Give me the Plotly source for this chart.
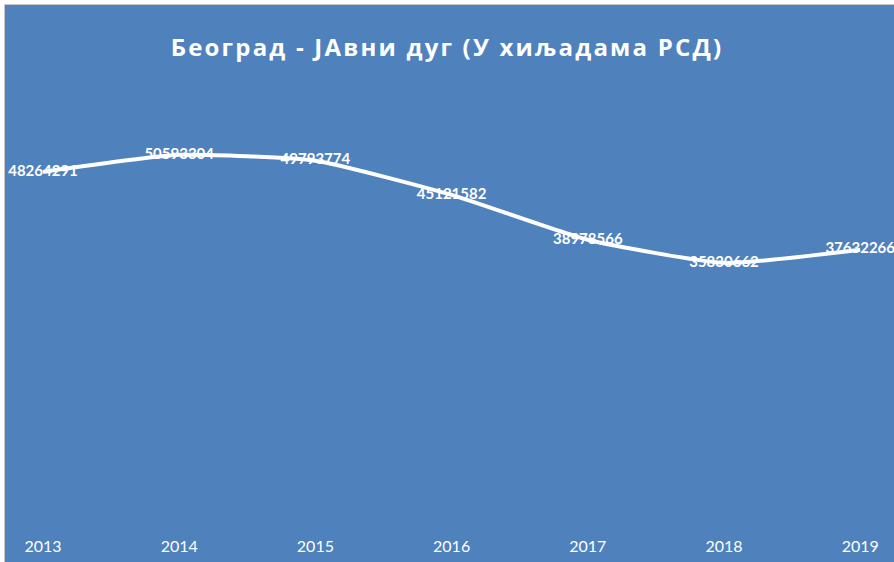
import plotly.graph_objects as go

years = ["2013", "2014", "2015", "2016", "2017", "2018", "2019"]
debt = [48264291, 50593304, 49793774, 45121582, 38978566, 35830662, 37632266]
title_text = "Београд - ЈАвни дуг (У хиљадама РСД)"

BLUE = "#4F81BD"
W, H = 894, 562
L, R, T, B = 6, 0, 86, 37
pw, ph = W - L - R, H - T - B

def px_x(p):
    return (p - L) / pw

def px_y(p):
    return (H - B - p) / ph

fig = go.Figure()
fig.add_trace(go.Scatter(
    x=list(range(len(years))), y=debt,
    mode="lines+text",
    line=dict(color="white", width=4, shape="spline", smoothing=0.5),
    text=[str(v) for v in debt],
    textposition="middle center",
    textfont=dict(family="Lato", size=15, color="white", weight="bold"),
    cliponaxis=False,
    hoverinfo="skip",
))

step = 136.2
r0 = -(43 - L) / step
r1 = r0 + pw / step

fig.update_layout(
    width=W, height=H,
    margin=dict(l=L, r=R, t=T, b=B, pad=0),
    paper_bgcolor=BLUE, plot_bgcolor=BLUE,
    showlegend=False,
    title=dict(text='<span style="letter-spacing:2.2px">' + title_text + '</span>',
               x=0.5, xanchor="center", y=1 - 48 / H, yanchor="middle",
               font=dict(family="Open Sans", size=24, color="white", weight="bold")),
    xaxis=dict(range=[r0, r1], tickmode="array", tickvals=list(range(len(years))),
               ticktext=years, showgrid=False, zeroline=False, showline=False,
               ticks="", ticklen=0,
               tickfont=dict(family="Lato", size=16, color="white")),
    yaxis=dict(range=[0, 60000000], visible=False, showgrid=False, zeroline=False),
    shapes=[
        dict(type="rect", xref="paper", yref="paper", x0=px_x(-5), x1=px_x(W + 5),
             y0=px_y(5), y1=px_y(-5), fillcolor="white", line=dict(width=0), layer="above"),
        dict(type="rect", xref="paper", yref="paper", x0=px_x(-5), x1=px_x(4),
             y0=px_y(H + 5), y1=px_y(-5), fillcolor="white", line=dict(width=0), layer="above"),
        dict(type="line", xref="paper", yref="paper", x0=px_x(4.5), x1=px_x(4.5),
             y0=px_y(H + 5), y1=px_y(4.5), line=dict(color="#C8C8C8", width=1), layer="above"),
        dict(type="line", xref="paper", yref="paper", x0=px_x(4.5), x1=px_x(W + 5),
             y0=px_y(4.5), y1=px_y(4.5), line=dict(color="#C8C8C8", width=1), layer="above"),
    ],
)
fig.update_xaxes(ticklabelstandoff=10)

fig.write_html("out.html", config={"displayModeBar": False},
               post_script="document.body.style.margin='0';")
